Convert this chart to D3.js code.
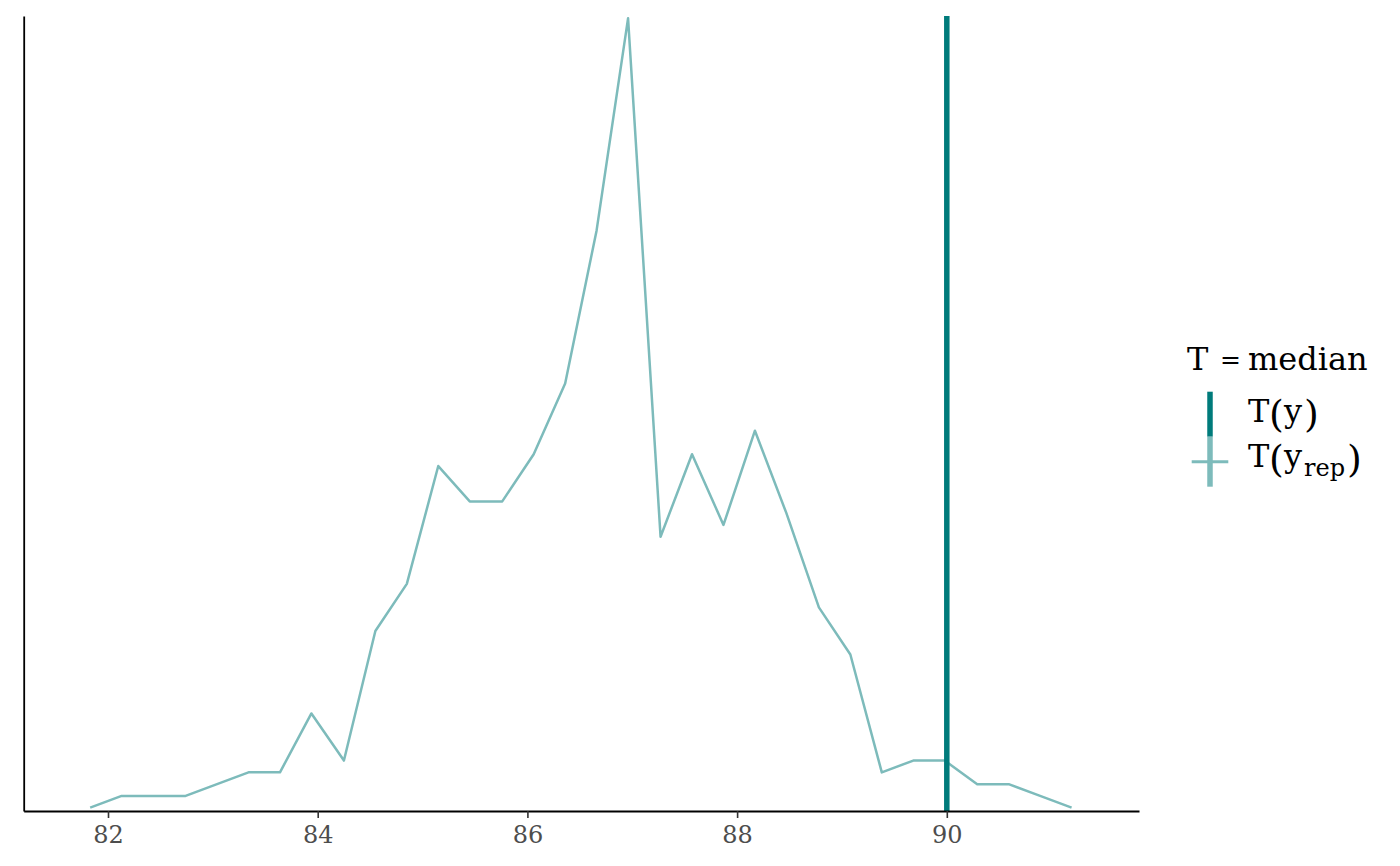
<!DOCTYPE html>
<html>
<head>
<meta charset="utf-8">
<script src="https://cdn.jsdelivr.net/npm/d3@7/dist/d3.min.js"></script>
<style>
  body { margin: 0; background: #fff; }
  svg { display: block; font-family: "DejaVu Serif", serif; }
</style>
</head>
<body>
<svg id="canvas" width="1400" height="866"></svg>
<script>
// bin centres of the frequency polygon (median of y_rep)
const binCenters = [81.83, 82.13, 82.43, 82.74, 83.04, 83.34, 83.64, 83.94,
  84.25, 84.55, 84.85, 85.15, 85.45, 85.76, 86.06, 86.36, 86.66, 86.96,
  87.27, 87.57, 87.87, 88.17, 88.47, 88.78, 89.08, 89.38, 89.68, 89.98,
  90.29, 90.59, 90.89, 91.19]
// counts per bin (500 draws)
const binCounts = [0, 1, 1, 1, 2, 3, 3, 8, 4, 15, 19, 29, 26, 26, 30, 36,
  49, 67, 23, 30, 24, 32, 25, 17, 13, 3, 4, 4, 2, 2, 1, 0]
// observed statistic T(y)
const observedT = 90
const xTicks = [82, 84, 86, 88, 90]

const lightTeal = "#7dbbbb"
const darkTeal = "#007b7b"

const svg = d3.select('#canvas')

const x = d3.scaleLinear().domain([81.196, 91.833]).range([23.7, 1139])
const y = d3.scaleLinear().domain([-0.28, 67.2]).range([811, 16])

const freqData = binCenters.map((c, i) => ({x: c, n: binCounts[i]}))

// the polygon
svg.append("path")
  .datum(freqData)
  .attr("fill", "none")
  .attr("stroke", lightTeal)
  .attr("stroke-width", 2.5)
  .attr("stroke-linejoin", "round")
  .attr("d", d3.line().x(d => x(d.x)).y(d => y(d.n)))

// T(y) line
svg.append("line")
  .attr("x1", x(observedT)).attr("x2", x(observedT))
  .attr("y1", y.range()[1]).attr("y2", y.range()[0])
  .attr("stroke", darkTeal)
  .attr("stroke-width", 5.5)

// x axis
const xAxis = svg.append("g")
  .attr("transform", "translate(0,811)")
  .call(d3.axisBottom(x).tickValues(xTicks).tickSize(7).tickSizeOuter(0).tickPadding(8))
xAxis.select(".domain").attr("stroke", "#000").attr("stroke-width", 1.8)
xAxis.selectAll(".tick line").attr("stroke", "#333").attr("stroke-width", 1.6)
xAxis.selectAll(".tick text")
  .attr("fill", "#4d4d4d")
  .style("font-family", "DejaVu Serif")
  .style("font-size", "24px")

// y axis, no ticks
const yAxis = svg.append("g")
  .attr("transform", "translate(23.7,0)")
  .call(d3.axisLeft(y).tickValues([]).tickSizeOuter(0))
yAxis.select(".domain").attr("stroke", "#000").attr("stroke-width", 1.8)

// legend
const leg = svg.append("g")

const title = leg.append("text")
  .attr("y", 370)
  .style("font-size", "32px")
  .attr("fill", "#000")
title.append("tspan").attr("x", 1187).text("T")
title.append("tspan").attr("x", 1220).style("font-size", "25px").attr("dy", -2).text("=")
title.append("tspan").attr("x", 1248).attr("dy", 2).text("median")

// key T(y)
leg.append("line")
  .attr("x1", 1210).attr("x2", 1210)
  .attr("y1", 391.7).attr("y2", 436.7)
  .attr("stroke", darkTeal).attr("stroke-width", 5.5)

// key T(y_rep)
leg.append("line")
  .attr("x1", 1210).attr("x2", 1210)
  .attr("y1", 436.7).attr("y2", 486.7)
  .attr("stroke", lightTeal).attr("stroke-width", 5.5)
leg.append("line")
  .attr("x1", 1191.7).attr("x2", 1228.3)
  .attr("y1", 461.7).attr("y2", 461.7)
  .attr("stroke", lightTeal).attr("stroke-width", 3)

// plotmath-like labels: big parentheses, subscript
const lab1 = leg.append("text")
  .attr("y", 422)
  .style("font-size", "32px")
  .attr("fill", "#000")
lab1.append("tspan").attr("x", 1248).text("T")
lab1.append("tspan").attr("x", 1269).attr("y", 427).style("font-size", "38px").text("(")
lab1.append("tspan").attr("x", 1284).attr("y", 422).text("y")
lab1.append("tspan").attr("x", 1304).attr("y", 427).style("font-size", "38px").text(")")

const lab2 = leg.append("text")
  .attr("y", 467)
  .style("font-size", "32px")
  .attr("fill", "#000")
lab2.append("tspan").attr("x", 1248).text("T")
lab2.append("tspan").attr("x", 1269).attr("y", 472).style("font-size", "38px").text("(")
lab2.append("tspan").attr("x", 1284).attr("y", 467).text("y")
lab2.append("tspan").attr("x", 1304).attr("y", 476).style("font-size", "24px").text("rep")
lab2.append("tspan").attr("x", 1347).attr("y", 472).style("font-size", "38px").text(")")
</script>
</body>
</html>
